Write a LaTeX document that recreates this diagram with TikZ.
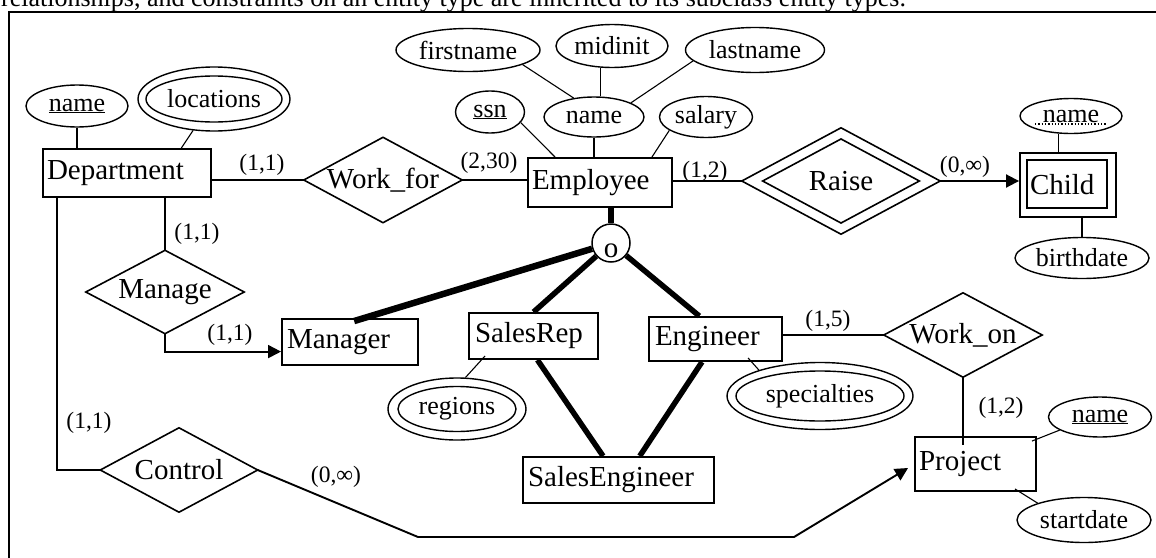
\documentclass[tikz,border=0pt]{standalone}
\usepackage{fontspec}
\setmainfont{Liberation Serif}
\usetikzlibrary{calc,arrows.meta,shapes.geometric}
\newcommand\entf{\fontsize{29}{33}\selectfont}
\newcommand\attf{\fontsize{26}{30}\selectfont}
\newcommand\cardf{\fontsize{23.5}{27}\selectfont}
\begin{document}
\begin{tikzpicture}[x=1pt,y=-1pt,
  ent/.style={draw, rectangle, line width=1.9pt, inner ysep=0pt, align=left, font=\entf},
  rel/.style={rectangle, inner sep=0pt, font=\entf},
  attr/.style={draw, ellipse, line width=1.4pt, inner sep=0pt, font=\attf},
  card/.style={inner sep=0pt, font=\cardf},
  rl/.style={line width=1.9pt},
  al/.style={line width=1.1pt},
  isa/.style={line width=5.5pt},
  arr/.style={-{Triangle[length=13pt,width=13pt]}},
  dia/.style={line width=1.6pt, line join=miter}]
\useasboundingbox (0,0) rectangle (1156,557);
\clip (0,0) rectangle (1156,557);

% caption line (cut off at the top, as in the reference)
\node[anchor=base west, inner sep=0pt, font=\fontsize{26}{30}\selectfont] (cap) at (1,6)
  {relationships, and constraints on an entity type are inherited to its subclass entity types.};
% frame
\draw[line width=2pt] (1175,12) -- (9,12) -- (9,575);

% entities
\node[ent, minimum width=168pt, minimum height=48pt, text width=160pt, inner xsep=4pt] (dept) at (127,173) {Department};
\node[ent, minimum width=144pt, minimum height=49pt, text width=136pt, inner xsep=4pt] (emp) at (600,182.5) {Employee};
\node[ent, minimum width=136pt, minimum height=46pt, text width=126pt, inner xsep=5pt] (mgr) at (350,342) {Manager};
\node[ent, minimum width=129pt, minimum height=46pt, text width=117pt, inner xsep=6pt] (sr) at (533.5,336) {SalesRep};
\node[ent, minimum width=133pt, minimum height=44pt, text width=121pt, inner xsep=6pt] (eng) at (715.5,339) {Engineer};
\node[ent, minimum width=191pt, minimum height=46pt, text width=181pt, inner xsep=5pt] (se) at (618.5,480) {SalesEngineer};
\node[ent, minimum width=121pt, minimum height=54pt, text width=113pt, inner xsep=4pt] (pr) at (975.5,464) {Project};
\node[ent, minimum width=96pt, minimum height=64pt, text width=76pt, inner xsep=10pt] (ch) at (1068,185) {Child};
\draw[line width=1.6pt] ($(ch.north west)+(8,8)$) rectangle ($(ch.south east)+(-10,-10)$);

% disjointness circle
\node[draw, circle, line width=1.5pt, minimum size=38pt, inner sep=0pt, font=\entf, text height=28pt, text depth=0pt] (dj) at (611,243) {o};

% relationships
\node[rel, minimum width=158pt, minimum height=85pt] (wf) at (383,180) {Work\_for};
\node[rel, minimum width=158pt, minimum height=83pt] (mg) at (165,292) {Manage};
\node[rel, minimum width=157pt, minimum height=84pt] (ct) at (179,470) {Control};
\node[rel, minimum width=158pt, minimum height=84pt] (wo) at (963,335) {Work\_on};
\node[rel, minimum width=198pt, minimum height=106pt] (rs) at (841,181) {Raise};
\foreach \n in {wf,mg,ct,wo,rs}
  \draw[dia] (\n.west) -- (\n.north) -- (\n.east) -- (\n.south) -- cycle;
\draw[dia] ($(rs.center)!0.79!(rs.west)$) -- ($(rs.center)!0.79!(rs.north)$) -- ($(rs.center)!0.79!(rs.east)$) -- ($(rs.center)!0.79!(rs.south)$) -- cycle;

% attributes
\node[attr, minimum width=102pt, minimum height=42pt] (dn) at (77,106) {\underline{name}};
\node[attr, minimum width=152pt, minimum height=64pt] (loc) at (214,99) {locations};
\draw[line width=1.4pt] (loc.center) ellipse [x radius=68pt, y radius=23pt];
\node[attr, minimum width=144pt, minimum height=43pt] (fn) at (468,50) {firstname};
\node[attr, minimum width=112pt, minimum height=43pt] (mi) at (612,46) {midinit};
\node[attr, minimum width=139pt, minimum height=45pt] (ln) at (755,50) {lastname};
\node[attr, minimum width=100pt, minimum height=40pt] (en) at (594,117) {name};
\node[attr, minimum width=69pt, minimum height=42pt] (ssn) at (490,112) {\underline{ssn}};
\node[attr, minimum width=93pt, minimum height=41pt] (sal) at (706,117) {salary};
\node[attr, minimum width=102pt, minimum height=35pt] (cn) at (1071,116) {name};
\draw[line width=1.3pt, dotted] (1035,124) -- (1107,124);
\node[attr, minimum width=134pt, minimum height=41pt] (bd) at (1082,258) {birthdate};
\node[attr, minimum width=138pt, minimum height=62pt] (rg) at (457,409) {regions};
\draw[line width=1.4pt] (rg.center) ellipse [x radius=59pt, y radius=22.5pt];
\node[attr, minimum width=186pt, minimum height=67pt] (sp) at (820,396) {specialties};
\draw[line width=1.4pt] (sp.center) ellipse [x radius=84pt, y radius=25pt];
\node[attr, minimum width=103pt, minimum height=40pt] (pn) at (1100,417) {\underline{name}};
\node[attr, minimum width=134pt, minimum height=45pt] (sd) at (1084,520) {startdate};

% attribute connectors
\draw[al] (dn.south) -- (dn.south |- dept.north);
\draw[al] (loc) -- ($(dept.north west)!0.82!(dept.north east)$);
\draw[al] (fn.-15) -- (en.137);
\draw[al] (mi.-117) -- (mi.-117 |- en.north);
\draw[al] (ln.190) -- (en.21);
\draw[al] (en.south) -- (en.south |- emp.north);
\draw[al] (ssn.-19) -- ($(emp.north west)+(28,0)$);
\draw[al] (sal.200) -- ($(emp.north east)+(-21,0)$);
\draw[al] (cn.-125) -- (cn.-125 |- ch.north);
\draw[al] (bd.north) -- (bd.north |- ch.south);
\draw[al] (pn.198) -- ($(pr.north east)+(-5,5)$);
\draw[al] (sd.160) -- ($(pr.south east)+(-22,-3)$);
\draw[al] (rg.75) -- ($(sr.south west)+(17,-4)$);
\draw[al] (sp.157) -- ($(eng.south west)+(100,-4)$);

% relationship connectors
\draw[rl] (wf.west -| dept.east) -- (wf.west);
\draw[rl] (wf.east) -- (wf.east -| emp.west);
\draw[rl] (rs.west -| emp.east) -- (rs.west);
\draw[rl,arr] (rs.east) -- (rs.east -| ch.west);
\draw[rl] (dept.south -| mg.north) -- (mg.north);
\draw[rl,arr] (mg.south) |- ($(mgr.south west)!0.3!(mgr.north west)$);
\draw[rl] ($(dept.south west)+(15,0)$) |- (ct.west);
\coordinate (k1) at (418,537);
\coordinate (k2) at (794,537);
\draw[rl,arr] (ct.east) -- (k1) -- (k2) -- ($(pr.west)+(-6,4)$);
\draw[rl] (wo.west -| eng.east) -- (wo.west);
\draw[rl] (wo.south) -- ($(wo.south |- pr.north)+(0,9)$);

% specialization lines
\draw[isa] (emp.south -| dj.north) -- (dj.north);
\draw[isa, line width=6.5pt] (dj) -- ($(mgr.north west)!0.53!(mgr.north east)+(0,3)$);
\draw[isa] (dj) -- (sr.north);
\draw[isa] (dj) -- ($(eng.north west)!0.38!(eng.north east)$);
\draw[isa] ($(sr.south west)!0.53!(sr.south east)$) -- ($(se.north west)!0.42!(se.north east)$);
\draw[isa] ($(eng.south west)!0.4!(eng.south east)$) -- ($(se.north west)!0.61!(se.north east)$);

% cardinalities
\node[card] (c1) at (262,165) {(1,1)};
\node[card] (c2) at (489,163) {(2,30)};
\node[card] (c3) at (705,172) {(1,2)};
\node[card] (c4) at (965,167) {(0,∞)};
\node[card] (c5) at (197,234) {(1,1)};
\node[card] (c6) at (230,335) {(1,1)};
\node[card] (c7) at (89,423) {(1,1)};
\node[card] (c8) at (336,477) {(0,∞)};
\node[card] (c9) at (828,321) {(1,5)};
\node[card] (c10) at (1001,408) {(1,2)};
\end{tikzpicture}
\end{document}
